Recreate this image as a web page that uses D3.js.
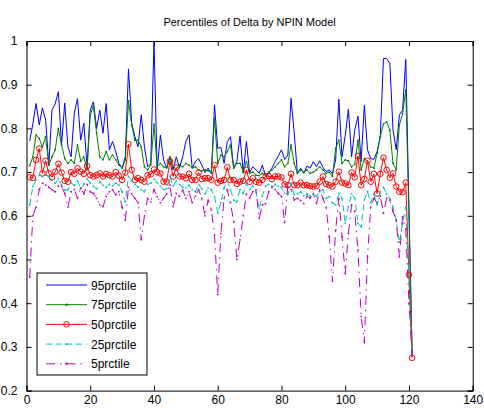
<!DOCTYPE html>
<html>
<head>
<meta charset="utf-8">
<script src="https://cdn.jsdelivr.net/npm/d3@7"></script>
<style>
  body { margin: 0; background: #fff; }
  text { font-family: Arial, "Liberation Sans", Helvetica, sans-serif; }
</style>
</head>
<body>
<div id="chart"></div>
<script>
(function () {
    const width = 484;
    const height = 408;

    // 数据：每个百分位一条序列，横轴为 1..121
    const p95 = [
        0.771, 0.810, 0.857, 0.808, 0.847, 0.819, 0.715, 0.842, 0.856, 0.884,
        0.762, 0.858, 0.758, 0.735, 0.835, 0.868, 0.773, 0.812, 0.712, 0.842,
        0.861, 0.800, 0.842, 0.789, 0.857, 0.751, 0.770, 0.747, 0.720, 0.709,
        0.735, 0.936, 0.812, 0.781, 0.758, 0.831, 0.758, 0.712, 0.720, 1.000,
        0.705, 0.785, 0.728, 0.709, 0.735, 0.705, 0.735, 0.709, 0.735, 0.770,
        0.785, 0.709, 0.724, 0.731, 0.716, 0.699, 0.709, 0.696, 0.854, 0.754,
        0.757, 0.720, 0.770, 0.781, 0.709, 0.724, 0.783, 0.697, 0.770, 0.699,
        0.712, 0.705, 0.697, 0.716, 0.691, 0.697, 0.709, 0.724, 0.737, 0.751,
        0.729, 0.739, 0.869, 0.789, 0.697, 0.709, 0.697, 0.714, 0.709, 0.724,
        0.712, 0.726, 0.711, 0.701, 0.705, 0.696, 0.728, 0.867, 0.735, 0.783,
        0.844, 0.735, 0.796, 0.828, 0.724, 0.853, 0.751, 0.731, 0.729, 0.747,
        0.781, 0.960, 0.960, 0.949, 0.796, 0.751, 0.831, 0.842, 0.958, 0.620,
        0.280
    ];
    const p75 = [
        0.715, 0.735, 0.785, 0.777, 0.758, 0.781, 0.716, 0.735, 0.751, 0.800,
        0.762, 0.731, 0.720, 0.728, 0.720, 0.762, 0.725, 0.735, 0.705, 0.831,
        0.851, 0.789, 0.735, 0.728, 0.747, 0.728, 0.739, 0.728, 0.716, 0.709,
        0.728, 0.863, 0.808, 0.773, 0.773, 0.758, 0.712, 0.705, 0.716, 0.810,
        0.712, 0.720, 0.712, 0.710, 0.735, 0.712, 0.708, 0.716, 0.712, 0.720,
        0.716, 0.710, 0.712, 0.705, 0.703, 0.705, 0.703, 0.700, 0.823, 0.720,
        0.739, 0.735, 0.747, 0.762, 0.709, 0.720, 0.720, 0.700, 0.724, 0.697,
        0.700, 0.693, 0.692, 0.697, 0.693, 0.700, 0.705, 0.712, 0.720, 0.728,
        0.712, 0.720, 0.762, 0.720, 0.697, 0.705, 0.700, 0.705, 0.697, 0.700,
        0.705, 0.712, 0.705, 0.697, 0.700, 0.690, 0.754, 0.773, 0.720, 0.728,
        0.726, 0.712, 0.718, 0.773, 0.705, 0.731, 0.725, 0.712, 0.709, 0.743,
        0.781, 0.810, 0.815, 0.796, 0.720, 0.705, 0.808, 0.834, 0.888, 0.600,
        0.280
    ];
    const p50 = [
        0.688, 0.687, 0.728, 0.754, 0.697, 0.726, 0.697, 0.688, 0.701, 0.719,
        0.699, 0.680, 0.678, 0.700, 0.696, 0.709, 0.701, 0.696, 0.714, 0.693,
        0.690, 0.693, 0.697, 0.690, 0.696, 0.693, 0.690, 0.700, 0.692, 0.682,
        0.699, 0.764, 0.705, 0.682, 0.686, 0.682, 0.678, 0.693, 0.695, 0.706,
        0.700, 0.697, 0.678, 0.678, 0.725, 0.690, 0.710, 0.690, 0.690, 0.686,
        0.696, 0.682, 0.682, 0.699, 0.684, 0.686, 0.686, 0.682, 0.716, 0.676,
        0.680, 0.682, 0.711, 0.682, 0.682, 0.673, 0.678, 0.680, 0.705, 0.678,
        0.686, 0.678, 0.676, 0.682, 0.690, 0.691, 0.684, 0.690, 0.690, 0.688,
        0.672, 0.670, 0.696, 0.670, 0.670, 0.676, 0.670, 0.670, 0.668, 0.667,
        0.668, 0.678, 0.690, 0.673, 0.670, 0.667, 0.678, 0.701, 0.676, 0.674,
        0.670, 0.699, 0.688, 0.737, 0.670, 0.684, 0.726, 0.678, 0.696, 0.651,
        0.696, 0.733, 0.705, 0.687, 0.697, 0.667, 0.655, 0.654, 0.676, 0.465,
        0.275
    ];
    const p25 = [
        0.625, 0.667, 0.682, 0.693, 0.690, 0.693, 0.690, 0.682, 0.674, 0.685,
        0.670, 0.659, 0.660, 0.675, 0.670, 0.680, 0.662, 0.672, 0.685, 0.675,
        0.668, 0.662, 0.678, 0.670, 0.665, 0.672, 0.668, 0.675, 0.670, 0.655,
        0.632, 0.690, 0.680, 0.672, 0.666, 0.660, 0.655, 0.672, 0.675, 0.684,
        0.676, 0.668, 0.660, 0.662, 0.690, 0.668, 0.680, 0.672, 0.665, 0.664,
        0.670, 0.660, 0.655, 0.672, 0.662, 0.650, 0.664, 0.660, 0.644, 0.606,
        0.630, 0.664, 0.680, 0.660, 0.636, 0.632, 0.660, 0.651, 0.675, 0.660,
        0.668, 0.655, 0.617, 0.645, 0.668, 0.672, 0.664, 0.672, 0.668, 0.665,
        0.652, 0.648, 0.675, 0.648, 0.650, 0.655, 0.646, 0.650, 0.645, 0.648,
        0.645, 0.655, 0.660, 0.640, 0.644, 0.630, 0.625, 0.651, 0.640, 0.583,
        0.621, 0.650, 0.640, 0.583, 0.575, 0.636, 0.655, 0.630, 0.650, 0.625,
        0.655, 0.665, 0.650, 0.640, 0.620, 0.590, 0.540, 0.583, 0.620, 0.450,
        0.280
    ];
    const p5 = [
        0.460, 0.600, 0.620, 0.660, 0.675, 0.670, 0.665, 0.660, 0.655, 0.668,
        0.667, 0.651, 0.620, 0.655, 0.660, 0.640, 0.663, 0.650, 0.672, 0.655,
        0.651, 0.640, 0.625, 0.621, 0.644, 0.655, 0.660, 0.648, 0.655, 0.620,
        0.590, 0.665, 0.650, 0.640, 0.630, 0.545, 0.600, 0.640, 0.632, 0.660,
        0.644, 0.630, 0.640, 0.650, 0.670, 0.621, 0.651, 0.645, 0.659, 0.640,
        0.655, 0.630, 0.645, 0.660, 0.640, 0.600, 0.636, 0.613, 0.556, 0.420,
        0.560, 0.640, 0.660, 0.630, 0.587, 0.500, 0.545, 0.600, 0.650, 0.640,
        0.655, 0.659, 0.594, 0.625, 0.628, 0.655, 0.667, 0.660, 0.651, 0.644,
        0.585, 0.667, 0.660, 0.636, 0.640, 0.635, 0.628, 0.645, 0.640, 0.650,
        0.628, 0.659, 0.640, 0.620, 0.552, 0.450, 0.567, 0.640, 0.552, 0.468,
        0.560, 0.625, 0.610, 0.522, 0.370, 0.310, 0.506, 0.620, 0.640, 0.630,
        0.645, 0.606, 0.640, 0.636, 0.610, 0.590, 0.506, 0.598, 0.570, 0.400,
        0.280
    ];

    const seriesNames = ["95prctile", "75prctile", "50prctile", "25prctile", "5prctile"];
    const seriesValues = [p95, p75, p50, p25, p5];
    const xTicks = [0, 20, 40, 60, 80, 100, 120, 140];
    const yTicks = [0.2, 0.3, 0.4, 0.5, 0.6, 0.7, 0.8, 0.9, 1];
    const titleText = "Percentiles of Delta by NPIN Model";

    // 每条线的样式（MATLAB 风格）
    const styles = [
        { color: "#0000ff", dash: null, marker: null },
        { color: "#008000", dash: null, marker: "dot" },
        { color: "#ff0000", dash: null, marker: "circle" },
        { color: "#00bfbf", dash: "6,4", marker: "dot" },
        { color: "#bf00bf", dash: "9,5,1.5,5", marker: "dot" }
    ];

    const margin = { top: 41, right: 11.3, bottom: 17.4, left: 26.5 };
    const innerW = width - margin.left - margin.right;
    const innerH = height - margin.top - margin.bottom;

    const svg = d3.select("#chart").append("svg")
        .attr("width", width)
        .attr("height", height);

    const x = d3.scaleLinear().domain([0, 140]).range([0, innerW]);
    const y = d3.scaleLinear().domain([0.2, 1]).range([innerH, 0]);

    const g = svg.append("g")
        .attr("transform", `translate(${margin.left},${margin.top})`);

    g.append("defs").append("clipPath").attr("id", "plot-clip")
        .append("rect").attr("x", -1).attr("y", -1)
        .attr("width", innerW + 2).attr("height", innerH + 2);

    // 标题
    svg.append("text")
        .attr("x", margin.left + innerW / 2)
        .attr("y", 26)
        .attr("text-anchor", "middle")
        .attr("font-size", 11)
        .text(titleText);

    // 数据线
    const line = d3.line()
        .x((d, i) => x(i + 1))
        .y(d => y(d));

    const plot = g.append("g").attr("clip-path", "url(#plot-clip)");

    seriesValues.forEach((vals, k) => {
        const st = styles[k];
        plot.append("path")
            .datum(vals)
            .attr("fill", "none")
            .attr("stroke", st.color)
            .attr("stroke-width", 1)
            .attr("stroke-dasharray", st.dash)
            .attr("d", line);

        if (st.marker === "circle") {
            plot.append("g").selectAll("circle")
                .data(vals)
                .join("circle")
                .attr("cx", (d, i) => x(i + 1))
                .attr("cy", d => y(d))
                .attr("r", 2.8)
                .attr("fill", "none")
                .attr("stroke", st.color)
                .attr("stroke-width", 1);
        } else if (st.marker === "dot") {
            plot.append("g").selectAll("circle")
                .data(vals)
                .join("circle")
                .attr("cx", (d, i) => x(i + 1))
                .attr("cy", d => y(d))
                .attr("r", 0.9)
                .attr("fill", st.color);
        }
    });

    // 坐标轴：刻度朝内，四边都有
    const tickLen = 5;
    const axisBottom = d3.axisBottom(x).tickValues(xTicks).tickSize(-tickLen).tickPadding(5);
    const axisTop = d3.axisTop(x).tickValues(xTicks).tickSize(-tickLen).tickFormat("");
    const axisLeft = d3.axisLeft(y).tickValues(yTicks).tickSize(-tickLen).tickPadding(9)
        .tickFormat(d => d === 1 ? "1" : d3.format(".1f")(d));
    const axisRight = d3.axisRight(y).tickValues(yTicks).tickSize(-tickLen).tickFormat("");

    const axes = [
        g.append("g").attr("transform", `translate(0,${innerH})`).call(axisBottom),
        g.append("g").call(axisTop),
        g.append("g").call(axisLeft),
        g.append("g").attr("transform", `translate(${innerW},0)`).call(axisRight)
    ];
    axes.forEach(a => {
        a.select(".domain").attr("stroke", "#000");
        a.selectAll(".tick line").attr("stroke", "#000");
        a.selectAll("text").attr("font-size", 12).attr("fill", "#000")
            .attr("font-family", "Arial, 'Liberation Sans', Helvetica, sans-serif");
    });

    // 图例
    const legend = svg.append("g").attr("transform", "translate(37,273)");
    legend.append("rect")
        .attr("x", 0).attr("y", 0)
        .attr("width", 110).attr("height", 102)
        .attr("fill", "#fff").attr("stroke", "#000").attr("stroke-width", 1);

    seriesNames.forEach((name, k) => {
        const st = styles[k];
        const item = legend.append("g").attr("transform", `translate(0,${12 + k * 19.7})`);
        item.append("line")
            .attr("x1", 9).attr("x2", 50).attr("y1", 0).attr("y2", 0)
            .attr("stroke", st.color).attr("stroke-width", 1)
            .attr("stroke-dasharray", st.dash);
        if (st.marker === "circle") {
            item.append("circle").attr("cx", 29.5).attr("cy", 0).attr("r", 2.8)
                .attr("fill", "none").attr("stroke", st.color);
        } else if (st.marker === "dot") {
            item.append("circle").attr("cx", 29.5).attr("cy", 0).attr("r", 1.2)
                .attr("fill", st.color);
        }
        item.append("text")
            .attr("x", 54).attr("y", 4.5)
            .attr("font-size", 12)
            .text(name);
    });
})();
</script>
</body>
</html>
